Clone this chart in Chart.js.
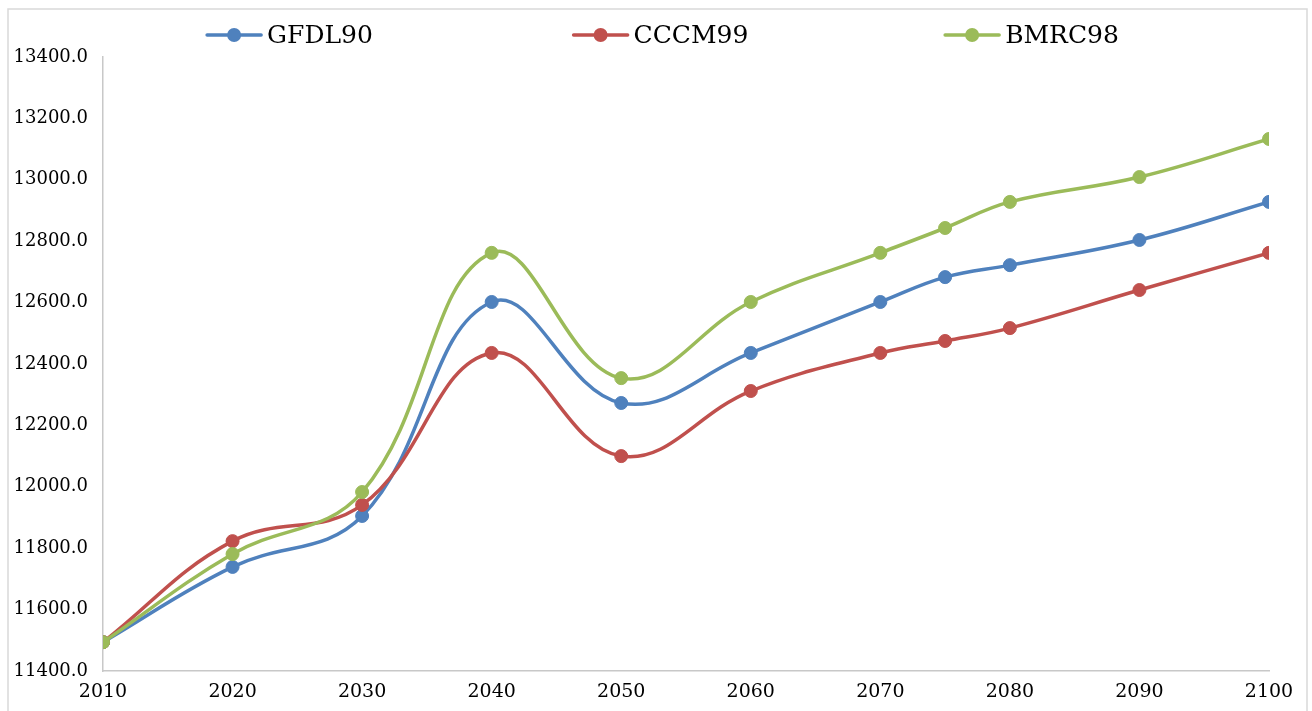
<!DOCTYPE html>
<html>
<head>
<meta charset="utf-8">
<script src="https://cdn.jsdelivr.net/npm/chart.js@4.4.1/dist/chart.umd.min.js"></script>
<style>
  html, body { margin: 0; padding: 0; background: #fff; }
  canvas { display: block; }
</style>
</head>
<body>
<canvas id="chart" width="1312" height="711"></canvas>
<script>
// Projection years and the three model series
const years  = [2010, 2020, 2030, 2040, 2050, 2060, 2070, 2075, 2080, 2090, 2100];
const gfdl90 = [11494, 11739, 11905, 12602, 12273, 12436, 12602, 12683, 12722, 12804, 12928];
const cccm99 = [11494, 11823, 11941, 12436, 12100, 12312, 12436, 12475, 12517, 12641, 12762];
const bmrc98 = [11494, 11781, 11983, 12762, 12354, 12602, 12762, 12843, 12928, 13009, 13133];

const seriesNames  = ['GFDL90', 'CCCM99', 'BMRC98'];
const seriesColors = ['#4F81BD', '#C0504D', '#9BBB59'];

// Axis tick values
const xTickValues = [2010, 2020, 2030, 2040, 2050, 2060, 2070, 2080, 2090, 2100];
const yTickValues = [11400, 11600, 11800, 12000, 12200, 12400, 12600, 12800, 13000, 13200, 13400];

const SERIF = '"DejaVu Serif", "Liberation Serif", serif';

function toPoints(values) {
  return years.map((yr, i) => ({ x: yr, y: values[i] }));
}

const seriesValues = [gfdl90, cccm99, bmrc98];
const datasets = seriesValues.map((vals, i) => ({
  label: seriesNames[i],
  data: toPoints(vals),
  borderColor: seriesColors[i],
  backgroundColor: seriesColors[i],
  pointBackgroundColor: seriesColors[i],
  pointBorderColor: seriesColors[i],
  borderWidth: 3.5,
  pointRadius: 6.5,
  pointBorderWidth: 1,
  tension: 0.4,
  fill: false,
  order: seriesValues.length - 1 - i
}));

// White background and thin outer frame
const framePlugin = {
  id: 'frame',
  beforeDraw(chart) {
    const ctx = chart.ctx;
    ctx.save();
    ctx.fillStyle = '#ffffff';
    ctx.fillRect(0, 0, chart.width, chart.height);
    ctx.strokeStyle = '#d9d9d9';
    ctx.lineWidth = 1.5;
    ctx.strokeRect(8, 9, chart.width - 13, chart.height - 6);
    ctx.restore();
  }
};

// Legend row: line-with-marker swatch followed by the series name, spread across the top
const legendRow = {
  id: 'legendRow',
  afterDraw(chart) {
    const ctx = chart.ctx;
    const n = chart.data.datasets.length;
    const centre = 661, step = 371, y = 35;
    const swatch = 54, gap = 6;
    ctx.save();
    ctx.font = '25px ' + SERIF;
    ctx.textBaseline = 'middle';
    chart.data.datasets.forEach((ds, i) => {
      const textW = ctx.measureText(ds.label).width;
      const total = swatch + gap + textW;
      const x0 = centre + (i - (n - 1) / 2) * step - total / 2;
      ctx.strokeStyle = ds.borderColor;
      ctx.lineWidth = 3.5;
      ctx.lineCap = 'round';
      ctx.beginPath();
      ctx.moveTo(x0, y);
      ctx.lineTo(x0 + swatch, y);
      ctx.stroke();
      ctx.fillStyle = ds.borderColor;
      ctx.beginPath();
      ctx.arc(x0 + swatch / 2, y, 7, 0, Math.PI * 2);
      ctx.fill();
      ctx.fillStyle = '#000000';
      ctx.fillText(ds.label, x0 + swatch + gap, y + 1);
    });
    ctx.restore();
  }
};

new Chart(document.getElementById('chart'), {
  type: 'line',
  data: { datasets },
  options: {
    responsive: false,
    animation: false,
    devicePixelRatio: 1,
    layout: { padding: { top: 57, right: 43, bottom: 0, left: 0 } },
    plugins: {
      legend: { display: false },
      tooltip: { enabled: false }
    },
    scales: {
      x: {
        type: 'linear',
        min: years[0],
        max: years[years.length - 1],
        afterBuildTicks(scale) { scale.ticks = xTickValues.map(v => ({ value: v })); },
        afterFit(scale) { scale.height = 40; },
        grid: { color: 'rgba(0,0,0,0)', drawTicks: false },
        border: { display: true, color: '#c8c8c8', width: 1.5 },
        ticks: {
          padding: 10,
          color: '#000000',
          font: { family: SERIF, size: 19 },
          callback: v => String(v),
          maxRotation: 0,
          autoSkip: false
        }
      },
      y: {
        type: 'linear',
        min: yTickValues[0],
        max: yTickValues[yTickValues.length - 1],
        afterBuildTicks(scale) { scale.ticks = yTickValues.map(v => ({ value: v })); },
        afterFit(scale) { scale.width = 103; },
        grid: { color: 'rgba(0,0,0,0)', drawTicks: false },
        border: { display: true, color: '#c8c8c8', width: 1.5 },
        ticks: {
          padding: 15,
          color: '#000000',
          font: { family: SERIF, size: 18 },
          callback: v => Number(v).toFixed(1),
          autoSkip: false
        }
      }
    }
  },
  plugins: [framePlugin, legendRow]
});
</script>
</body>
</html>
